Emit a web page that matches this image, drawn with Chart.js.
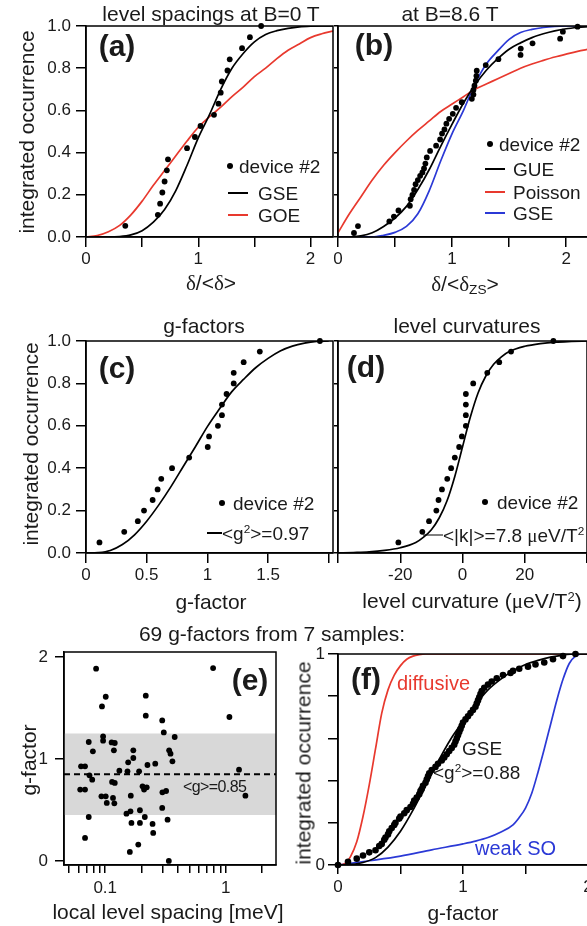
<!DOCTYPE html>
<html>
<head>
<meta charset="utf-8">
<script src="https://cdn.jsdelivr.net/npm/chart.js@4.4.0/dist/chart.umd.min.js"></script>
<style>
html, body { margin: 0; padding: 0; background: #fff; overflow: hidden; }
body { width: 587px; height: 926px; position: relative; font-family: "Liberation Sans", Arial, sans-serif; color: #1a1a1a; }
canvas { position: absolute; }
.t { position: absolute; white-space: nowrap; transform: translate(-50%, -50%); line-height: 1; font-size: 21px; z-index: 5; }
.l { position: absolute; white-space: nowrap; transform: translateY(-50%); line-height: 1; font-size: 19px; z-index: 5; }
.v { transform: translate(-50%, -50%) rotate(-90deg); }
.pl { font-weight: bold; font-size: 30px; }
.d { font-family: "Liberation Serif", serif; }
sup { font-size: 0.62em; vertical-align: 0.55em; line-height: 0; }
sub { font-size: 0.65em; vertical-align: -0.25em; line-height: 0; }
.dot { position: absolute; width: 6px; height: 6px; border-radius: 50%; background: #000; transform: translate(-50%, -50%); z-index: 5; }
.ln { position: absolute; height: 0; border-top: 2px solid #000; transform: translateY(-50%); z-index: 5; }
</style>
</head>
<body>

<div class="t" style="left:211px;top:13px">level spacings at B=0 T</div>
<div class="t" style="left:450px;top:13px">at B=8.6 T</div>
<div class="t v" style="left:26px;top:132px">integrated occurrence</div>
<div class="t" style="left:211px;top:283px"><span class="d">δ</span>/&lt;<span class="d">δ</span>&gt;</div>
<div class="t" style="left:465px;top:284px"><span class="d">δ</span>/&lt;<span class="d">δ</span><sub>ZS</sub>&gt;</div>
<div class="t pl" style="left:117px;top:46px">(a)</div>
<div class="t pl" style="left:374px;top:45px">(b)</div>

<div class="dot" style="left:230px;top:166px"></div>
<div class="l" style="left:239px;top:166px">device #2</div>
<div class="ln" style="left:228px;top:193px;width:20px"></div>
<div class="l" style="left:258px;top:193px">GSE</div>
<div class="ln" style="left:228px;top:215px;width:20px;border-color:#e8392e"></div>
<div class="l" style="left:258px;top:215px">GOE</div>

<div class="dot" style="left:490px;top:144px"></div>
<div class="l" style="left:499px;top:144px">device #2</div>
<div class="ln" style="left:485px;top:169px;width:20px"></div>
<div class="l" style="left:513px;top:169px">GUE</div>
<div class="ln" style="left:485px;top:192px;width:20px;border-color:#e8392e"></div>
<div class="l" style="left:513px;top:192px">Poisson</div>
<div class="ln" style="left:485px;top:213px;width:20px;border-color:#2b39d6"></div>
<div class="l" style="left:513px;top:213px">GSE</div>

<div class="t" style="left:204px;top:325px">g-factors</div>
<div class="t" style="left:467px;top:325px">level curvatures</div>
<div class="t v" style="left:30px;top:444px">integrated occurrence</div>
<div class="t pl" style="left:117px;top:368px">(c)</div>
<div class="t pl" style="left:366px;top:367px">(d)</div>
<div class="dot" style="left:222px;top:503px"></div>
<div class="l" style="left:233px;top:503px">device #2</div>
<div class="ln" style="left:207px;top:533px;width:15px"></div>
<div class="l" style="left:222px;top:533px">&lt;g<sup>2</sup>&gt;=0.97</div>
<div class="dot" style="left:485px;top:502px"></div>
<div class="l" style="left:497px;top:502px">device #2</div>
<div class="ln" style="left:423px;top:535px;width:20px;border-top-width:1.5px"></div>
<div class="l" style="left:443px;top:535px">&lt;|k|&gt;=7.8 <span class="d">μ</span>eV/T<sup>2</sup></div>
<div class="t" style="left:211px;top:601px">g-factor</div>
<div class="t" style="left:472px;top:601px">level curvature (<span class="d">μ</span>eV/T<sup>2</sup>)</div>

<div class="t" style="left:272px;top:633px">69 g-factors from 7 samples:</div>
<div class="t v" style="left:28px;top:760px">g-factor</div>
<div class="t pl" style="left:250px;top:680px">(e)</div>
<div class="l" style="left:183px;top:787px;font-size:16px;letter-spacing:-0.6px">&lt;g&gt;=0.85</div>
<div class="t" style="left:168px;top:911px">local level spacing [meV]</div>
<div class="t v" style="left:303px;top:763px">integrated occurrence</div>
<div class="t pl" style="left:366px;top:679px">(f)</div>
<div class="l" style="left:397px;top:683px;font-size:20px;color:#e8392e">diffusive</div>
<div class="l" style="left:462px;top:748px">GSE</div>
<div class="l" style="left:433px;top:772px">&lt;g<sup>2</sup>&gt;=0.88</div>
<div class="l" style="left:475px;top:848px;font-size:20px;color:#2b39d6">weak SO</div>
<div class="t" style="left:463px;top:912px">g-factor</div>

<script>
const FONT = '"Liberation Sans", Arial, sans-serif';
const RED = '#e8392e';
const BLUE = '#2b39d6';

// (a) level spacings at B=0 T
const aDevX = [0.35, 0.64, 0.66, 0.68, 0.70, 0.72, 0.73, 0.90, 0.97, 1.02, 1.14, 1.18, 1.20, 1.21, 1.26, 1.28, 1.39, 1.46, 1.56];
const aDevY = [0.053, 0.105, 0.158, 0.211, 0.263, 0.316, 0.368, 0.421, 0.474, 0.526, 0.579, 0.632, 0.684, 0.737, 0.789, 0.842, 0.895, 0.947, 1.0];
const sX = [0, 0.1, 0.2, 0.3, 0.4, 0.5, 0.6, 0.7, 0.8, 0.9, 1.0, 1.1, 1.2, 1.3, 1.4, 1.5, 1.6, 1.7, 1.8, 1.9, 2.0, 2.1, 2.2];
const aGSE = [0, 0, 0, 0.002, 0.01, 0.03, 0.07, 0.13, 0.22, 0.34, 0.47, 0.58, 0.7, 0.8, 0.87, 0.925, 0.96, 0.978, 0.989, 0.996, 0.999, 1.0, 1.0];
const aGOE = [0, 0.007, 0.025, 0.055, 0.105, 0.17, 0.245, 0.315, 0.385, 0.455, 0.52, 0.57, 0.615, 0.665, 0.71, 0.76, 0.8, 0.845, 0.885, 0.915, 0.945, 0.963, 0.976];

// (b) at B=8.6 T
const bDevX = [0.14, 0.175, 0.45, 0.49, 0.53, 0.63, 0.637, 0.652, 0.667, 0.68, 0.70, 0.72, 0.74, 0.754, 0.766, 0.778, 0.807, 0.86, 0.895, 0.912, 0.933, 0.95, 0.974, 1.006, 1.035, 1.085, 1.173, 1.187, 1.187, 1.196, 1.208, 1.213, 1.216, 1.295, 1.406, 1.60, 1.602, 1.705, 1.947, 1.971, 2.10];
const bDevY = [0.019, 0.052, 0.074, 0.097, 0.126, 0.148, 0.179, 0.2, 0.223, 0.25, 0.27, 0.29, 0.306, 0.325, 0.348, 0.377, 0.408, 0.433, 0.462, 0.49, 0.51, 0.537, 0.56, 0.584, 0.612, 0.639, 0.655, 0.675, 0.697, 0.717, 0.741, 0.764, 0.788, 0.815, 0.843, 0.863, 0.893, 0.918, 0.94, 0.973, 0.997];
const bGUE = [0, 0, 0.005, 0.02, 0.05, 0.09, 0.145, 0.225, 0.32, 0.43, 0.535, 0.635, 0.72, 0.79, 0.845, 0.89, 0.92, 0.945, 0.963, 0.977, 0.987, 0.993, 0.997];
const bPoisson = [0.02, 0.11, 0.19, 0.27, 0.34, 0.4, 0.455, 0.505, 0.55, 0.595, 0.63, 0.665, 0.7, 0.725, 0.75, 0.775, 0.8, 0.82, 0.837, 0.853, 0.867, 0.88, 0.89];
const bGSE = [0, 0, 0, 0, 0.008, 0.022, 0.05, 0.11, 0.22, 0.36, 0.49, 0.6, 0.725, 0.82, 0.882, 0.937, 0.969, 0.984, 0.993, 0.998, 1.0, 1.0, 1.0];

// (c) g-factors
const cDevX = [0.111, 0.315, 0.427, 0.478, 0.549, 0.59, 0.62, 0.709, 0.85, 1.003, 1.014, 1.087, 1.12, 1.12, 1.158, 1.217, 1.217, 1.299, 1.432, 1.927];
const cDevY = [0.05, 0.1, 0.15, 0.2, 0.25, 0.3, 0.35, 0.4, 0.45, 0.5, 0.55, 0.6, 0.65, 0.7, 0.75, 0.8, 0.85, 0.9, 0.95, 1.0];
const cFitX = [0, 0.1, 0.2, 0.3, 0.4, 0.5, 0.6, 0.7, 0.8, 0.9, 1.0, 1.1, 1.2, 1.3, 1.4, 1.5, 1.6, 1.7, 1.8, 1.9, 2.0];
const cFitY = [0, 0.002, 0.012, 0.04, 0.086, 0.15, 0.227, 0.313, 0.407, 0.5, 0.596, 0.68, 0.76, 0.82, 0.875, 0.918, 0.953, 0.976, 0.99, 0.998, 1.0];

// (d) level curvatures
const dDevX = [-20.6, -12.9, -10.75, -8.4, -7.7, -6.6, -4.9, -3.66, -2.47, -1.08, -0.2, 1.08, 1.08, 1.08, 1.08, 3.44, 7.96, 11.8, 15.6, 29.2];
const dDevY = [0.05, 0.1, 0.15, 0.2, 0.25, 0.3, 0.35, 0.4, 0.45, 0.5, 0.55, 0.6, 0.65, 0.7, 0.75, 0.8, 0.85, 0.9, 0.95, 1.0];
const dFitX = [-40, -35, -30, -25, -20, -15, -12.5, -10, -7.5, -5, -2.5, 0, 2.5, 5, 7.5, 10, 12.5, 15, 20, 25, 30, 35, 40];
const dFitY = [0, 0.002, 0.005, 0.012, 0.025, 0.05, 0.075, 0.11, 0.165, 0.245, 0.36, 0.5, 0.64, 0.755, 0.835, 0.89, 0.925, 0.95, 0.975, 0.988, 0.995, 0.998, 1.0];

// (e) g-factor vs local level spacing
const eX = [0.084, 0.063, 0.068, 0.062, 0.068, 0.068, 0.073, 0.079, 0.074, 0.078, 0.073, 0.094, 0.101, 0.096, 0.096, 0.093, 0.101, 0.103, 0.113, 0.120, 0.118, 0.114, 0.120, 0.116, 0.119, 0.131, 0.153, 0.155, 0.171, 0.171, 0.163, 0.150, 0.162, 0.165, 0.160, 0.188, 0.191, 0.194, 0.194, 0.204, 0.210, 0.213, 0.221, 0.217, 0.217, 0.224, 0.247, 0.250, 0.260, 0.297, 0.306, 0.298, 0.320, 0.297, 0.377, 0.339, 0.348, 0.361, 0.329, 0.337, 0.785, 1.072, 1.288, 1.455];
const eY = [1.886, 0.928, 0.928, 0.70, 0.70, 0.226, 1.167, 1.075, 0.84, 0.797, 0.431, 1.516, 1.611, 1.222, 1.18, 0.634, 0.634, 0.569, 1.163, 1.157, 1.085, 0.775, 0.765, 0.618, 0.565, 0.886, 0.879, 0.967, 1.085, 1.01, 0.64, 0.464, 0.487, 0.373, 0.088, 0.16, 0.879, 0.497, 0.373, 0.732, 0.70, 0.431, 0.722, 1.621, 1.425, 0.941, 0.363, 0.275, 0.954, 1.379, 1.261, 0.673, 0.686, 0.52, 1.216, 1.085, 1.052, 0.977, 0.405, 0.0, 1.892, 1.412, 0.895, 0.64];
const eMean = 0.85;
const eBandLow = 0.45;
const eBandHigh = 1.25;

// (f) 69 g-factors from 7 samples
const fX = [0.0, 0.08, 0.15, 0.2, 0.25, 0.3, 0.33, 0.35, 0.37, 0.38, 0.4, 0.41, 0.43, 0.45, 0.46, 0.49, 0.5, 0.53, 0.55, 0.58, 0.6, 0.61, 0.63, 0.65, 0.66, 0.67, 0.68, 0.7, 0.71, 0.72, 0.73, 0.75, 0.78, 0.8, 0.83, 0.85, 0.87, 0.89, 0.91, 0.93, 0.94, 0.95, 0.96, 0.97, 0.98, 0.99, 1.0, 1.02, 1.04, 1.06, 1.08, 1.1, 1.11, 1.12, 1.13, 1.14, 1.15, 1.17, 1.2, 1.23, 1.27, 1.32, 1.38, 1.4, 1.45, 1.52, 1.58, 1.65, 1.72, 1.8, 1.9];
const fY = [0.0, 0.015, 0.03, 0.045, 0.06, 0.07, 0.09, 0.10, 0.12, 0.13, 0.145, 0.16, 0.175, 0.19, 0.20, 0.22, 0.23, 0.245, 0.26, 0.275, 0.29, 0.305, 0.32, 0.335, 0.35, 0.36, 0.375, 0.39, 0.405, 0.42, 0.435, 0.45, 0.465, 0.48, 0.495, 0.51, 0.525, 0.54, 0.555, 0.57, 0.585, 0.60, 0.615, 0.63, 0.645, 0.66, 0.675, 0.69, 0.705, 0.72, 0.735, 0.75, 0.765, 0.78, 0.795, 0.81, 0.825, 0.84, 0.855, 0.87, 0.885, 0.90, 0.91, 0.92, 0.93, 0.94, 0.95, 0.96, 0.975, 0.99, 1.0];
const fGseX = [0, 0.1, 0.2, 0.3, 0.4, 0.5, 0.6, 0.7, 0.8, 0.9, 1.0, 1.1, 1.2, 1.3, 1.4, 1.5, 1.6, 1.7, 1.8, 1.9, 2.0];
const fGseY = [0, 0.003, 0.012, 0.035, 0.085, 0.16, 0.26, 0.375, 0.49, 0.595, 0.68, 0.76, 0.83, 0.88, 0.92, 0.95, 0.97, 0.985, 0.995, 1.0, 1.0];
const fDiffX = [0, 0.05, 0.1, 0.15, 0.2, 0.25, 0.3, 0.35, 0.4, 0.45, 0.5, 0.55, 0.6, 0.65, 0.7, 2.0];
const fDiffY = [0, 0.005, 0.04, 0.11, 0.23, 0.38, 0.55, 0.72, 0.83, 0.9, 0.945, 0.975, 0.99, 0.997, 1.0, 1.0];
const fWeakX = [0, 0.25, 0.5, 0.75, 1.0, 1.1, 1.2, 1.3, 1.4, 1.45, 1.5, 1.55, 1.6, 1.65, 1.7, 1.75, 1.8, 1.85, 1.9, 1.95, 2.0];
const fWeakY = [0, 0.02, 0.042, 0.072, 0.1, 0.113, 0.13, 0.155, 0.19, 0.225, 0.27, 0.34, 0.44, 0.55, 0.665, 0.78, 0.88, 0.955, 0.99, 1.0, 1.0];

const occTicks = [0, 0.2, 0.4, 0.6, 0.8, 1.0];
const occLabels = ['0.0', '0.2', '0.4', '0.6', '0.8', '1.0'];

Chart.defaults.font.family = FONT;

function pts(xs, ys) {
	return xs.map((x, i) => ({ x: x, y: ys[i] }));
}

function curve(xs, ys, color) {
	return {
		data: pts(xs, ys),
		showLine: true,
		borderColor: color,
		borderWidth: 1.7,
		pointRadius: 0,
		cubicInterpolationMode: "monotone",
		order: 2,
	};
}

function dots(xs, ys, r) {
	return {
		data: pts(xs, ys),
		showLine: false,
		pointRadius: r || 2.9,
		backgroundColor: "#000",
		borderColor: "#000",
		borderWidth: 0,
		clip: false,
		order: 0,
	};
}

function axis(pos, min, max, ticks, labels, o) {
	o = o || {};
	return {
		type: o.type || "linear",
		position: pos,
		bounds: "data",
		min: min,
		max: max,
		afterBuildTicks: (s) => {
			s.ticks = ticks.map((v) => ({ value: v }));
		},
		afterFit: (s) => {
			if (pos === "left") s.width = o.size;
			else s.height = o.size;
			s.paddingLeft = s.paddingRight = s.paddingTop = s.paddingBottom = 0;
		},
		ticks: {
			callback: (v, i) => labels[i] || "",
			autoSkip: false,
			maxRotation: 0,
			minRotation: 0,
			padding: o.pad,
			color: "#1a1a1a",
			font: { size: o.font || 17 },
		},
		grid: {
			drawOnChartArea: false,
			drawTicks: true,
			tickLength: o.tl,
			tickColor: "#000",
			lineWidth: 1.5,
		},
		border: { display: true, color: "#000", width: 1.5 },
	};
}

const frame = {
	id: "frame",
	afterDatasetsDraw(chart) {
		const a = chart.chartArea;
		const ctx = chart.ctx;
		ctx.save();
		ctx.strokeStyle = "#000";
		ctx.lineWidth = 1.5;
		ctx.strokeRect(a.left, a.top, a.right - a.left, a.bottom - a.top);
		ctx.restore();
	},
};

function panel(box, area, xAxis, yAxis, datasets) {
	const c = document.createElement("canvas");
	c.width = box.w;
	c.height = box.h;
	c.style.left = box.x + "px";
	c.style.top = box.y + "px";
	document.body.appendChild(c);
	const xa = axis("bottom", xAxis.min, xAxis.max, xAxis.ticks, xAxis.labels,
		Object.assign({ size: box.y + box.h - area.b }, xAxis.o));
	const ya = axis("left", yAxis.min, yAxis.max, yAxis.ticks, yAxis.labels,
		Object.assign({ size: area.l - box.x }, yAxis.o));
	return new Chart(c, {
		type: "scatter",
		data: { datasets: datasets },
		options: {
			responsive: false,
			animation: false,
			devicePixelRatio: 1,
			layout: { padding: { left: 0, bottom: 0, top: area.t - box.y, right: box.x + box.w - area.r } },
			plugins: { legend: { display: false }, tooltip: { enabled: false } },
			scales: { x: xa, y: ya },
		},
		plugins: [frame],
	});
}

// (a)
panel({ x: 0, y: 0, w: 337, h: 300 }, { l: 86, t: 26, r: 335, b: 237 },
	{ min: 0, max: 2.2, ticks: [0, 0.5, 1, 1.5, 2], labels: ["0", "", "1", "", "2"], o: { tl: 10, pad: 2 } },
	{ min: 0, max: 1, ticks: occTicks, labels: occLabels, o: { tl: 10, pad: 5 } },
	[dots(aDevX, aDevY), curve(sX, aGSE, "#000"), curve(sX, aGOE, RED)]);

// (b)
panel({ x: 300, y: 0, w: 300, h: 300 }, { l: 338, t: 26, r: 589, b: 237 },
	{ min: 0, max: 2.2, ticks: [0, 0.5, 1, 1.5, 2], labels: ["0", "", "1", "", "2"], o: { tl: 10, pad: 2 } },
	{ min: 0, max: 1, ticks: occTicks, labels: [], o: { tl: 4, pad: 0 } },
	[dots(bDevX, bDevY), curve(sX, bGUE, "#000"), curve(sX, bPoisson, RED), curve(sX, bGSE, BLUE)]);

// (c)
panel({ x: 0, y: 300, w: 337, h: 300 }, { l: 86, t: 341, r: 336, b: 553 },
	{ min: 0, max: 2.035, ticks: [0, 0.5, 1, 1.5, 2], labels: ["0", "0.5", "1", "1.5", ""], o: { tl: 10, pad: 2 } },
	{ min: 0, max: 1, ticks: occTicks, labels: occLabels, o: { tl: 10, pad: 5 } },
	[dots(cDevX, cDevY), curve(cFitX, cFitY, "#000")]);

// (d)
panel({ x: 300, y: 300, w: 300, h: 300 }, { l: 338, t: 341, r: 587, b: 553 },
	{ min: -40, max: 40, ticks: [-40, -20, 0, 20, 40], labels: ["", "-20", "0", "20", ""], o: { tl: 10, pad: 2 } },
	{ min: 0, max: 1, ticks: occTicks, labels: [], o: { tl: 4, pad: 0 } },
	[dots(dDevX, dDevY), curve(dFitX, dFitY, "#000")]);

// (e)
const eTicks = [0.05, 0.06, 0.07, 0.08, 0.09, 0.1, 0.2, 0.3, 0.4, 0.5, 0.6, 0.7, 0.8, 0.9, 1, 2];
const eLabels = ["", "", "", "", "", "0.1", "", "", "", "", "", "", "", "", "1", ""];
const eMin = 0.0455;
const eMax = 2.61;
panel({ x: 0, y: 600, w: 300, h: 326 }, { l: 64, t: 652, r: 276, b: 865 },
	{ min: eMin, max: eMax, ticks: eTicks, labels: eLabels, o: { type: "logarithmic", tl: 8, pad: 5 } },
	{ min: -0.04, max: 2.05, ticks: [0, 1, 2], labels: ["0", "1", "2"], o: { tl: 9, pad: 7 } },
	[
		dots(eX, eY),
		{ data: pts([eMin, eMax], [eMean, eMean]), showLine: true, borderColor: "#000", borderWidth: 2, borderDash: [6, 4], pointRadius: 0, order: 1 },
		{ data: pts([eMin, eMax], [eBandHigh, eBandHigh]), showLine: true, borderWidth: 0, pointRadius: 0, fill: "+1", backgroundColor: "#d8d8d8", order: 3 },
		{ data: pts([eMin, eMax], [eBandLow, eBandLow]), showLine: true, borderWidth: 0, pointRadius: 0, order: 3 },
	]);

// (f)
panel({ x: 300, y: 600, w: 300, h: 326 }, { l: 338, t: 654, r: 588, b: 865 },
	{ min: 0, max: 2, ticks: [0, 0.5, 1, 1.5, 2], labels: ["0", "", "1", "", "2"], o: { tl: 9, pad: 3 } },
	{ min: 0, max: 1, ticks: occTicks, labels: ["0", "", "", "", "", "1"], o: { tl: 10, pad: 3 } },
	[dots(fX, fY, 3.3), curve(fGseX, fGseY, "#000"), curve(fDiffX, fDiffY, RED), curve(fWeakX, fWeakY, BLUE)]);
</script>
</body>
</html>
